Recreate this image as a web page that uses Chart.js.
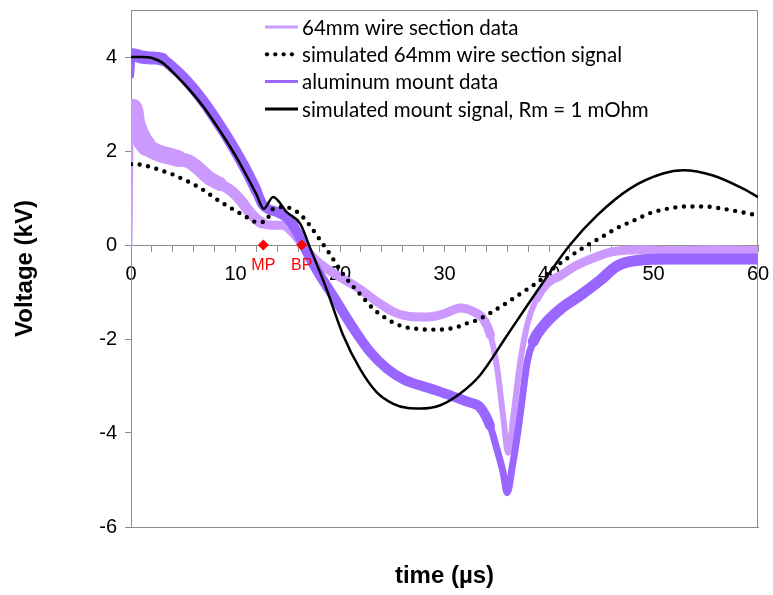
<!DOCTYPE html>
<html>
<head>
<meta charset="utf-8">
<script src="https://cdn.jsdelivr.net/npm/chart.js@4.4.1/dist/chart.umd.min.js"></script>
<style>
  html, body { margin: 0; padding: 0; background: #fff; }
  #wrap { width: 773px; height: 595px; position: relative; }
</style>
</head>
<body>
<div id="wrap"><canvas id="chart"></canvas></div>
<script>
/* values: time in µs, voltage in kV */
const wireDataT = [0, 0.15, 0.4, 0.8, 1.5, 2.5, 3.5, 4.5, 5.5, 6.5, 7.5, 8.5, 9.5, 10.5, 11.5, 12.5, 13.5, 14.5, 15.4, 16.1, 16.8, 17.5, 18.7, 20.3, 21.9, 23.5, 25.1, 26.7, 28.4, 30.0, 31.5, 32.8, 33.7, 34.4, 35.0, 35.6, 36.1, 36.6, 37.2, 37.9, 38.8, 39.8, 41.1, 42.5, 44.1, 45.9, 48.8, 52, 56, 60];
const wireDataV = [0, 2.9, 2.6, 2.35, 2.1, 1.97, 1.9, 1.84, 1.78, 1.62, 1.42, 1.3, 1.17, 0.95, 0.66, 0.47, 0.42, 0.42, 0.28, 0.1, -0.1, -0.28, -0.5, -0.72, -0.94, -1.2, -1.42, -1.52, -1.53, -1.46, -1.34, -1.42, -1.57, -1.92, -2.56, -3.62, -4.42, -3.62, -2.56, -1.71, -1.14, -0.82, -0.65, -0.45, -0.29, -0.15, -0.1, -0.12, -0.1, -0.12];

const wireSimT = [0, 1, 2, 3, 4, 5, 6, 7, 8, 9, 10, 11, 12, 12.8, 13.6, 14.6, 15.5, 16.3, 17.0, 17.8, 18.9, 20.5, 21.9, 23.2, 24.2, 25.1, 26.1, 27.7, 28.6, 29.6, 31.3, 32.1, 33.1, 34.5, 36.1, 37.5, 39.1, 40.4, 41.7, 43.4, 44.9, 46.5, 48.1, 49.7, 51.3, 53.2, 54.9, 56.7, 58.4, 60];
const wireSimV = [1.72, 1.71, 1.65, 1.58, 1.5, 1.4, 1.29, 1.16, 1.0, 0.86, 0.73, 0.6, 0.49, 0.49, 0.77, 0.81, 0.76, 0.63, 0.45, 0.2, -0.15, -0.68, -1.04, -1.36, -1.53, -1.65, -1.74, -1.79, -1.8, -1.8, -1.74, -1.67, -1.6, -1.43, -1.21, -1.0, -0.76, -0.5, -0.29, -0.04, 0.15, 0.36, 0.52, 0.68, 0.77, 0.82, 0.82, 0.77, 0.7, 0.63];

const mountDataT = [0, 0.2, 1, 2, 3, 4, 5, 6, 7, 8, 9, 10, 11, 12, 12.6, 13.2, 14, 14.8, 15.5, 16.5, 17.3, 18.1, 19.7, 21.3, 22.9, 24.5, 26.1, 27.7, 29.3, 30.8, 32.4, 33.4, 34.35, 35.0, 35.6, 36.0, 36.5, 36.9, 37.45, 37.9, 38.5, 39.5, 41.1, 43.0, 44.9, 46.5, 48.4, 52, 56, 60];
const mountDataV = [3.6, 4.05, 4.0, 3.98, 3.95, 3.78, 3.57, 3.32, 3.03, 2.71, 2.37, 2.0, 1.6, 1.15, 0.86, 0.76, 0.7, 0.6, 0.42, 0.0, -0.35, -0.65, -1.21, -1.78, -2.28, -2.63, -2.86, -2.99, -3.1, -3.22, -3.35, -3.45, -3.84, -4.33, -4.83, -5.27, -4.7, -4.15, -3.25, -2.5, -2.05, -1.71, -1.36, -1.07, -0.75, -0.45, -0.33, -0.3, -0.3, -0.3];

const mountSimT = [0, 1, 2, 3, 4, 5, 6, 7, 8, 9, 10, 11, 12, 12.7, 13.6, 14.9, 16.2, 17.1, 18.7, 20.3, 21.9, 23.5, 25.1, 26.5, 27.7, 29.6, 31.5, 33.4, 36, 38.8, 42, 44.6, 47.75, 50.9, 52.85, 55.7, 58.3, 60];
const mountSimV = [4.0, 4.0, 3.98, 3.88, 3.68, 3.45, 3.2, 2.92, 2.6, 2.26, 1.9, 1.5, 1.08, 0.77, 1.02, 0.7, 0.45, -0.04, -0.93, -1.92, -2.63, -3.13, -3.38, -3.47, -3.48, -3.41, -3.16, -2.77, -1.92, -1.0, 0, 0.63, 1.2, 1.52, 1.59, 1.48, 1.23, 1.02];

const markerT = [12.66, 16.33];
const markerV = [0, 0];
const markerLabels = ['MP', 'BP'];

const seriesLabels = [
  '64mm wire section data',
  'simulated 64mm wire section signal',
  'aluminum mount data',
  'simulated mount signal, Rm = 1 mOhm'
];

const xTickValues = [0, 2, 4, 6, 8, 10, 12, 14, 16, 18, 20, 22, 24, 26, 28, 30, 32, 34, 36, 38, 40, 42, 44, 46, 48, 50, 52, 54, 56, 58, 60];
const xLabelValues = [0, 10, 20, 30, 40, 50, 60];
const yTickValues = [-6, -4, -2, 0, 2, 4];

const LIGHT = '#CC99FF';
const DARK = '#9966FF';
const AXIS = '#8c8c8c';
const ARIAL = '"Liberation Sans", Arial, sans-serif';

function pts(ts, vs) {
  return ts.map(function (t, i) { return { x: t, y: vs[i] }; });
}

// the recorded traces are noisy, drawn as a band whose width follows the picture
function wireWidth(c) {
  const t = c.p0.parsed.x;
  if (t < 0.15) return 3;
  if (t < 1) return 20;
  if (t < 4) return 17;
  if (t < 8) return 14;
  if (t < 12) return 11;
  if (t < 34) return 9;
  if (t < 38.5) return 6;
  return 9;
}
function mountWidth(c) {
  const t = c.p0.parsed.x;
  if (t < 0.2) return 6;
  if (t < 3) return 13;
  if (t < 12) return 11;
  if (t < 34) return 10;
  if (t < 38.5) return 7;
  return 11;
}

// no extra room for half tick labels: the plot box is fixed by the layout padding
function noPadX(s) { s.paddingLeft = 0; s.paddingRight = 0; }

const framePlugin = {
  id: 'frame',
  beforeDatasetsDraw(chart) {
    const a = chart.chartArea, ctx = chart.ctx;
    ctx.save();
    ctx.strokeStyle = AXIS;
    ctx.lineWidth = 1;
    ctx.beginPath();
    ctx.moveTo(a.left, a.top + 0.5);
    ctx.lineTo(a.right - 0.5, a.top + 0.5);
    ctx.lineTo(a.right - 0.5, a.bottom);
    ctx.stroke();
    ctx.restore();
  }
};

const markerLabelPlugin = {
  id: 'markerLabels',
  afterDatasetsDraw(chart) {
    const ctx = chart.ctx, xs = chart.scales.x, ys = chart.scales.y;
    ctx.save();
    ctx.font = '16px ' + ARIAL;
    ctx.fillStyle = '#FF0000';
    ctx.textAlign = 'center';
    ctx.textBaseline = 'middle';
    markerT.forEach(function (t, i) {
      ctx.fillText(markerLabels[i], xs.getPixelForValue(t), ys.getPixelForValue(markerV[i]) + 21);
    });
    ctx.restore();
  }
};

const insideLegend = {
  id: 'insideLegend',
  afterDraw(chart) {
    const ctx = chart.ctx, a = chart.chartArea;
    const x0 = a.left + 134, y0 = a.top + 17, row = 27.3, len = 33;
    ctx.save();
    ctx.font = '20.5px Lato, "Open Sans", sans-serif';
    ctx.textBaseline = 'middle';
    chart.data.datasets.slice(0, 4).forEach(function (ds, i) {
      const y = y0 + i * row;
      if (ds.borderDash && ds.borderDash.length) {
        ctx.fillStyle = ds.borderColor;
        for (let k = 0; k < 4; k++) {
          ctx.beginPath();
          ctx.arc(x0 + 2 + k * 8.3, y, 2.1, 0, 2 * Math.PI);
          ctx.fill();
        }
      } else {
        ctx.strokeStyle = ds.borderColor;
        ctx.lineWidth = 3;
        ctx.beginPath();
        ctx.moveTo(x0, y);
        ctx.lineTo(x0 + len, y);
        ctx.stroke();
      }
      ctx.fillStyle = '#000';
      ctx.fillText(ds.label, x0 + len + 4, y + 1);
    });
    ctx.restore();
  }
};

new Chart(document.getElementById('chart'), {
  type: 'line',
  data: {
    datasets: [
      {
        label: seriesLabels[0], data: pts(wireDataT, wireDataV),
        borderColor: LIGHT, borderWidth: 9, pointRadius: 0, order: 4, clip: 0,
        borderCapStyle: 'round', borderJoinStyle: 'round', cubicInterpolationMode: 'monotone',
        segment: { borderWidth: wireWidth }
      },
      {
        label: seriesLabels[1], data: pts(wireSimT, wireSimV),
        borderColor: '#000', borderWidth: 4.4, borderDash: [0, 8.6], borderCapStyle: 'round',
        pointRadius: 0, order: 2, clip: 0, cubicInterpolationMode: 'monotone'
      },
      {
        label: seriesLabels[2], data: pts(mountDataT, mountDataV),
        borderColor: DARK, borderWidth: 10, pointRadius: 0, order: 3, clip: 0,
        borderCapStyle: 'round', borderJoinStyle: 'round', cubicInterpolationMode: 'monotone',
        segment: { borderWidth: mountWidth }
      },
      {
        label: seriesLabels[3], data: pts(mountSimT, mountSimV),
        borderColor: '#000', borderWidth: 2.5, pointRadius: 0, order: 1, clip: 0,
        cubicInterpolationMode: 'monotone'
      },
      {
        label: 'markers', data: pts(markerT, markerV), showLine: false,
        pointStyle: 'rectRot', pointRadius: 5.5, pointBackgroundColor: '#FF0000',
        pointBorderWidth: 0, borderColor: '#FF0000', order: 0
      }
    ]
  },
  options: {
    responsive: true, maintainAspectRatio: false, animation: false,
    layout: { padding: { top: 10, right: 15, left: 0, bottom: 0 } },
    plugins: { legend: { display: false }, tooltip: { enabled: false } },
    scales: {
      x: {
        type: 'linear', min: 0, max: 60, position: { y: 0 },
        afterFit: function (s) { s.height = 0; noPadX(s); },
        afterBuildTicks: function (s) { s.ticks = xTickValues.map(function (v) { return { value: v }; }); },
        ticks: {
          autoSkip: false, maxRotation: 0, padding: 11, color: '#000',
          font: { family: ARIAL, size: 20 },
          callback: function (v) { return xLabelValues.indexOf(v) >= 0 ? String(v) : ''; }
        },
        grid: { drawOnChartArea: false, tickLength: 6, color: AXIS },
        border: { color: AXIS, width: 1 }
      },
      xb: {
        type: 'linear', min: 0, max: 60, position: 'bottom',
        afterFit: function (s) { s.height = 68; noPadX(s); },
        ticks: { display: false },
        grid: { display: false },
        border: { color: AXIS, width: 1 },
        title: {
          display: true, text: 'time (µs)', color: '#000',
          font: { family: ARIAL, size: 24, weight: 'bold' }, padding: { top: 4, bottom: 4 }
        }
      },
      y: {
        type: 'linear', min: -6, max: 5, position: 'left',
        afterFit: function (s) { s.width = 131; s.paddingTop = 0; s.paddingBottom = 0; },
        afterBuildTicks: function (s) { s.ticks = yTickValues.map(function (v) { return { value: v }; }); },
        ticks: { padding: 8, color: '#000', font: { family: ARIAL, size: 20 } },
        grid: { drawOnChartArea: false, tickLength: 6, color: AXIS },
        border: { color: AXIS, width: 1 },
        title: {
          display: true, text: 'Voltage (kV)', color: '#000',
          font: { family: ARIAL, size: 24, weight: 'bold' }, padding: { top: 11, bottom: 0 }
        }
      }
    }
  },
  plugins: [framePlugin, markerLabelPlugin, insideLegend]
});
</script>
</body>
</html>
